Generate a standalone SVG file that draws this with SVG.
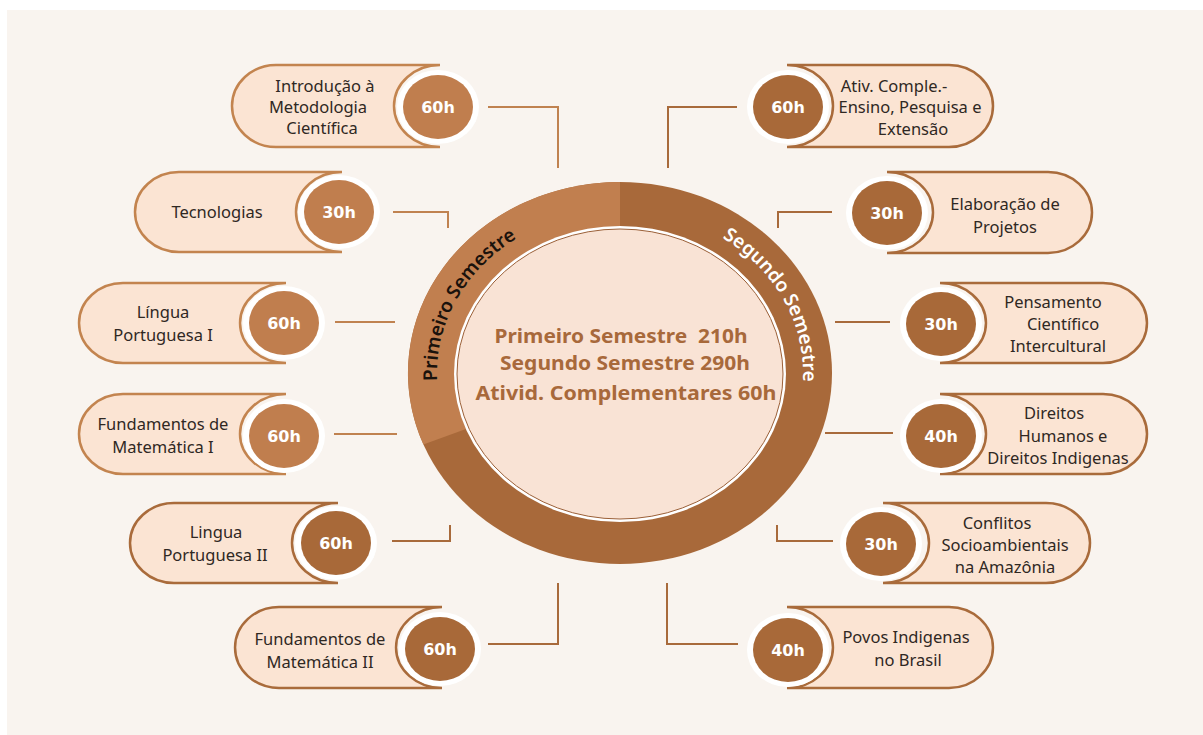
<svg xmlns="http://www.w3.org/2000/svg" width="1203" height="735" viewBox="0 0 1203 735">
<defs>
<style>
.bg{fill:#f9f4ef}
.pill{fill:#fbe4d3;stroke-width:2.5}
.pl{stroke:#c3844f}
.pd{stroke:#a96b3b}
.halo{fill:#ffffff}
.bl{fill:#c07e4e}
.bd{fill:#a86939}
.hrs{font-family:"DejaVu Sans",sans-serif;font-weight:bold;font-size:16px;fill:#ffffff;text-anchor:middle}
.lbl{font-family:"Noto Sans",sans-serif;font-size:16.5px;fill:#2f2823;text-anchor:middle}
.conn path{fill:none;stroke-width:2}
.cl{stroke:#c08250}
.cd{stroke:#a86a3b}
.mid{font-family:"Noto Sans",sans-serif;font-weight:bold;font-size:19px;fill:#a8693b;text-anchor:middle;white-space:pre}
.arc{font-family:"Noto Sans",sans-serif;font-weight:600;font-size:19px}
</style>
<path id="arcL" d="M 479.8 477.8 A 183 163 0 0 1 620 210"/>
<path id="arcR" d="M 620 210 A 183 163 0 0 1 760.2 477.8"/>
</defs>

<rect width="1203" height="735" fill="#ffffff"/>
<rect class="bg" x="7" y="10" width="1196" height="725"/>

<!-- central hub: two-tone ring with the totals -->
<g id="hub">
  <ellipse cx="620" cy="373" rx="212" ry="191" fill="#a8693a"/>
  <path d="M 620 373 L 423.4 444.6 A 212 191 0 0 1 620 182 Z" fill="#c17f4f"/>
  <ellipse cx="620" cy="374" rx="166" ry="148" fill="#ffffff"/>
  <ellipse cx="620" cy="374" rx="163" ry="145" fill="#f9e3d5" stroke="#9b6038" stroke-width="1"/>
  <text class="arc" fill="#1a120c"><textPath href="#arcL" startOffset="50%" text-anchor="middle">Primeiro Semestre</textPath></text>
  <text class="arc" fill="#ffffff"><textPath href="#arcR" startOffset="50%" text-anchor="middle">Segundo Semestre</textPath></text>
  <text class="mid" x="621" y="343" textLength="253" lengthAdjust="spacingAndGlyphs">Primeiro Semestre  210h</text>
  <text class="mid" x="625" y="370" textLength="250" lengthAdjust="spacingAndGlyphs">Segundo Semestre 290h</text>
  <text class="mid" x="626" y="400" textLength="301" lengthAdjust="spacingAndGlyphs">Ativid. Complementares 60h</text>
</g>

<!-- connectors -->
<g id="connectors" class="conn">
  <path class="cl" d="M488 107 H558 V168"/>
  <path class="cl" d="M393 212 H448 V228"/>
  <path class="cl" d="M335 322 H395"/>
  <path class="cl" d="M334 434 H397"/>
  <path class="cd" d="M450 525 V541 H392"/>
  <path class="cd" d="M558 583 V644 H488"/>
  <path class="cd" d="M737 107 H668 V168"/>
  <path class="cd" d="M832 212 H778 V228"/>
  <path class="cd" d="M835 322 H890"/>
  <path class="cd" d="M825 433 H893"/>
  <path class="cd" d="M777 525 V541 H833"/>
  <path class="cd" d="M667 583 V644 H738"/>
</g>

<!-- first-semester courses (left) -->
<g id="n-intro-metodologia">
  <path class="pill pl" d="M440,65 H276 A44 41 0 0 0 276,147 H440 A46 41 0 0 1 440,65 Z"/>
  <ellipse class="halo" cx="438" cy="107" rx="41" ry="37"/>
  <ellipse class="bl" cx="438" cy="107" rx="35" ry="32"/>
  <text class="hrs" x="438" y="112.5">60h</text>
  <text class="lbl" x="325" y="92">Introdução à</text>
  <text class="lbl" x="318" y="113">Metodologia</text>
  <text class="lbl" x="322" y="134">Científica</text>
</g>
<g id="n-tecnologias">
  <path class="pill pl" d="M342,172 H179 A44 40 0 0 0 179,252 H342 A46 40 0 0 1 342,172 Z"/>
  <ellipse class="halo" cx="339" cy="212" rx="41" ry="37"/>
  <ellipse class="bl" cx="339" cy="212" rx="35" ry="32"/>
  <text class="hrs" x="339" y="217.5">30h</text>
  <text class="lbl" x="217" y="218">Tecnologias</text>
</g>
<g id="n-lingua-1">
  <path class="pill pl" d="M286,283 H123 A44 40 0 0 0 123,363 H286 A46 40 0 0 1 286,283 Z"/>
  <ellipse class="halo" cx="284" cy="323" rx="41" ry="37"/>
  <ellipse class="bl" cx="284" cy="323" rx="35" ry="32"/>
  <text class="hrs" x="284" y="328.5">60h</text>
  <text class="lbl" x="163" y="318">Língua</text>
  <text class="lbl" x="163" y="341">Portuguesa I</text>
</g>
<g id="n-matematica-1">
  <path class="pill pl" d="M286,394 H123 A44 40 0 0 0 123,474 H286 A46 40 0 0 1 286,394 Z"/>
  <ellipse class="halo" cx="284" cy="436" rx="41" ry="37"/>
  <ellipse class="bl" cx="284" cy="436" rx="35" ry="32"/>
  <text class="hrs" x="284" y="441.5">60h</text>
  <text class="lbl" x="163" y="430">Fundamentos de</text>
  <text class="lbl" x="163" y="453">Matemática I</text>
</g>
<g id="n-lingua-2">
  <path class="pill pd" d="M338,503 H174 A44 40 0 0 0 174,583 H338 A46 40 0 0 1 338,503 Z"/>
  <ellipse class="halo" cx="336" cy="543" rx="41" ry="37"/>
  <ellipse class="bd" cx="336" cy="543" rx="35" ry="32"/>
  <text class="hrs" x="336" y="548.5">60h</text>
  <text class="lbl" x="216" y="538">Lingua</text>
  <text class="lbl" x="215" y="561">Portuguesa II</text>
</g>
<g id="n-matematica-2">
  <path class="pill pd" d="M442,607 H279 A44 40.5 0 0 0 279,688 H442 A46 40.5 0 0 1 442,607 Z"/>
  <ellipse class="halo" cx="440" cy="649" rx="41" ry="37"/>
  <ellipse class="bd" cx="440" cy="649" rx="35" ry="32"/>
  <text class="hrs" x="440" y="654.5">60h</text>
  <text class="lbl" x="320" y="645">Fundamentos de</text>
  <text class="lbl" x="320" y="668">Matemática II</text>
</g>

<!-- second-semester courses (right) -->
<g id="n-ativ-comple">
  <path class="pill pd" d="M787,65 H949 A44 41 0 0 1 949,147 H787 A46 41 0 0 0 787,65 Z"/>
  <ellipse class="halo" cx="788" cy="107" rx="41" ry="37"/>
  <ellipse class="bd" cx="788" cy="107" rx="35" ry="32"/>
  <text class="hrs" x="788" y="112.5">60h</text>
  <text class="lbl" x="894" y="92">Ativ. Comple.-</text>
  <text class="lbl" x="910" y="113">Ensino, Pesquisa e</text>
  <text class="lbl" x="913" y="135">Extensão</text>
</g>
<g id="n-elaboracao">
  <path class="pill pd" d="M887,172 H1048 A44 40.5 0 0 1 1048,253 H887 A46 40.5 0 0 0 887,172 Z"/>
  <ellipse class="halo" cx="887" cy="213" rx="41" ry="37"/>
  <ellipse class="bd" cx="887" cy="213" rx="35" ry="32"/>
  <text class="hrs" x="887" y="218.5">30h</text>
  <text class="lbl" x="1005" y="210">Elaboração de</text>
  <text class="lbl" x="1005" y="233">Projetos</text>
</g>
<g id="n-pensamento">
  <path class="pill pd" d="M940,283 H1103 A44 40 0 0 1 1103,363 H940 A46 40 0 0 0 940,283 Z"/>
  <ellipse class="halo" cx="941" cy="324" rx="41" ry="37"/>
  <ellipse class="bd" cx="941" cy="324" rx="35" ry="32"/>
  <text class="hrs" x="941" y="329.5">30h</text>
  <text class="lbl" x="1053" y="308">Pensamento</text>
  <text class="lbl" x="1063" y="330">Científico</text>
  <text class="lbl" x="1058" y="352">Intercultural</text>
</g>
<g id="n-direitos">
  <path class="pill pd" d="M940,394 H1103 A44 40 0 0 1 1103,474 H940 A46 40 0 0 0 940,394 Z"/>
  <ellipse class="halo" cx="941" cy="436" rx="41" ry="37"/>
  <ellipse class="bd" cx="941" cy="436" rx="35" ry="32"/>
  <text class="hrs" x="941" y="441.5">40h</text>
  <text class="lbl" x="1054" y="419">Direitos</text>
  <text class="lbl" x="1063" y="442">Humanos e</text>
  <text class="lbl" x="1058" y="464">Direitos Indigenas</text>
</g>
<g id="n-conflitos">
  <path class="pill pd" d="M883,503 H1046 A44 40 0 0 1 1046,583 H883 A46 40 0 0 0 883,503 Z"/>
  <ellipse class="halo" cx="881" cy="544" rx="41" ry="37"/>
  <ellipse class="bd" cx="881" cy="544" rx="35" ry="32"/>
  <text class="hrs" x="881" y="549.5">30h</text>
  <text class="lbl" x="997" y="529">Conflitos</text>
  <text class="lbl" x="1005" y="551">Socioambientais</text>
  <text class="lbl" x="1005" y="573">na Amazônia</text>
</g>
<g id="n-povos">
  <path class="pill pd" d="M787,607 H949 A44 40.5 0 0 1 949,688 H787 A46 40.5 0 0 0 787,607 Z"/>
  <ellipse class="halo" cx="788" cy="650" rx="41" ry="37"/>
  <ellipse class="bd" cx="788" cy="650" rx="35" ry="32"/>
  <text class="hrs" x="788" y="655.5">40h</text>
  <text class="lbl" x="906" y="643">Povos Indigenas</text>
  <text class="lbl" x="908" y="666">no Brasil</text>
</g>
</svg>
